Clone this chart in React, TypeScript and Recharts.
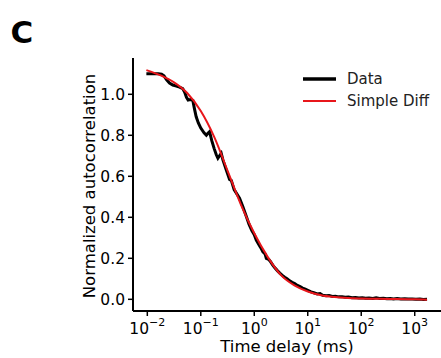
import React from 'react';
import { LineChart, Line, XAxis, YAxis, Legend } from 'recharts';

// Measured curve (Data), time delay in ms
const dataTime = [
  0.0096, 0.0115, 0.0135, 0.016, 0.0185, 0.0205, 0.023, 0.026, 0.03, 0.035,
  0.04, 0.046, 0.05, 0.054, 0.058, 0.064, 0.071, 0.076, 0.082, 0.09,
  0.1, 0.115, 0.127, 0.136, 0.146, 0.16, 0.178, 0.195, 0.209, 0.224,
  0.241, 0.259, 0.3, 0.345, 0.372, 0.42, 0.53, 0.61, 0.708, 0.8,
  0.9, 1.0, 1.09, 1.2, 1.32, 1.45, 1.59, 1.68, 1.85, 2.0,
  2.2, 2.4, 2.7, 3.0, 3.3, 3.7, 4.1, 4.6, 5.1, 5.7,
  6.4, 7.2, 8.0, 9.0, 10, 11.5, 13, 15, 17, 19,
  22, 25, 29, 33, 38, 44, 50, 58, 67, 78,
  90, 105, 120, 140, 165, 190, 220, 260, 300, 350,
  400, 470, 550, 650, 750, 900, 1050, 1250, 1450, 1700,
];
const dataValue = [
  1.1, 1.1, 1.1, 1.1, 1.098, 1.09, 1.07, 1.055, 1.045, 1.04,
  1.035, 1.028, 1.01, 0.985, 0.972, 0.974, 0.97, 0.93, 0.89, 0.86,
  0.835, 0.812, 0.8, 0.81, 0.818, 0.775, 0.735, 0.705, 0.688, 0.7,
  0.712, 0.68, 0.63, 0.585, 0.58, 0.535, 0.493, 0.452, 0.405, 0.365,
  0.335, 0.315, 0.289, 0.27, 0.252, 0.232, 0.222, 0.2, 0.195, 0.185,
  0.168, 0.155, 0.14, 0.128, 0.118, 0.108, 0.1, 0.09, 0.083, 0.077,
  0.068, 0.062, 0.055, 0.05, 0.044, 0.036, 0.032, 0.026, 0.028, 0.02,
  0.018, 0.019, 0.014, 0.015, 0.012, 0.013, 0.01, 0.011, 0.008, 0.009,
  0.006, 0.008, 0.005, 0.006, 0.004, 0.007, 0.004, 0.005, 0.003, 0.004,
  0.002, 0.004, 0.002, 0.003, 0.001, 0.002, 0.0, 0.001, -0.001, 0.0,
];

// Simple diffusion fit (Simple Diff)
const fitTime = [
  0.0096, 0.0178, 0.0316, 0.0562, 0.1, 0.178, 0.316, 0.562, 1.0, 1.78,
  3.16, 5.62, 10, 17.8, 31.6, 56.2, 100, 316, 1000, 1700,
];
const fitValue = [
  1.118, 1.092, 1.058, 1.005, 0.918, 0.792, 0.628, 0.462, 0.322, 0.207,
  0.118, 0.068, 0.038, 0.02, 0.011, 0.006, 0.004, 0.002, 0.0, -0.002,
];

const xTicks = [0.01, 0.1, 1, 10, 100, 1000];
const yTicks = [0, 0.2, 0.4, 0.6, 0.8, 1.0];
const seriesNames = ['Data', 'Simple Diff'];
const seriesColors = ['#000000', '#e8161b'];
const xLabel = 'Time delay (ms)';
const yLabel = 'Normalized autocorrelation';
const panelTitle = 'C';

const FONT = '"DejaVu Sans", sans-serif';

const dataRows = dataTime.map((t, i) => ({ t, v: dataValue[i] }));
const fitRows = fitTime.map((t, i) => ({ t, v: fitValue[i] }));

const XTick = (props: any) => {
  const { x, y, payload } = props;
  const exp = Math.round(Math.log10(payload.value));
  const expText = exp < 0 ? '\u2212' + Math.abs(exp) : String(exp);
  return (
    <g transform={`translate(${x},${y})`}>
      <text textAnchor="middle" y={14.5} fontSize={15.5} fill="#000" fontFamily={FONT}>
        <tspan>10</tspan>
        <tspan dy={-8} fontSize={11}>{expText}</tspan>
      </text>
    </g>
  );
};

const renderLegend = () => (
  <svg width={140} height={50} style={{ display: 'block' }}>
    {seriesNames.map((name, i) => (
      <g key={name} transform={`translate(0, ${i * 22})`}>
        <line x1={3} x2={36} y1={11} y2={11} stroke={seriesColors[i]} strokeWidth={i === 0 ? 3.5 : 2} />
        <text x={47} y={16} fontSize={15} fontFamily={FONT} fill="#222">{name}</text>
      </g>
    ))}
  </svg>
);

export default function App() {
  return (
    <div style={{ position: 'absolute', left: 0, top: 0, width: 441, height: 358, background: '#fff' }}>
      <svg width={60} height={50} style={{ position: 'absolute', left: 0, top: 0 }}>
        <text x={10.5} y={43} fontSize={31} fontWeight="bold" fontFamily={FONT} fill="#000">{panelTitle}</text>
      </svg>
      <LineChart
        width={441}
        height={358}
        margin={{ top: 58, right: 0, left: 0, bottom: 0 }}
        style={{ fontFamily: FONT }}
      >
        <XAxis
          dataKey="t"
          type="number"
          scale="log"
          domain={[0.0054, 3100]}
          allowDataOverflow
          ticks={xTicks}
          interval={0}
          height={47}
          tickSize={5}
          tickMargin={3}
          axisLine={{ stroke: '#000', strokeWidth: 2 }}
          tickLine={{ stroke: '#000', strokeWidth: 1.5 }}
          tick={<XTick />}
          label={() => (
            <text x={287} y={352} textAnchor="middle" fontSize={16.5} fontFamily={FONT} fill="#000">{xLabel}</text>
          )}
        />
        <YAxis
          type="number"
          domain={[-0.057, 1.177]}
          allowDataOverflow
          ticks={yTicks}
          interval={0}
          width={133}
          tickSize={5}
          tickMargin={3}
          tickFormatter={(v: number) => v.toFixed(1)}
          tick={{ fontSize: 15.5, fill: '#000', fontFamily: FONT }}
          axisLine={{ stroke: '#000', strokeWidth: 2 }}
          tickLine={{ stroke: '#000', strokeWidth: 1.5 }}
          label={() => (
            <text x={94.5} y={186} transform="rotate(-90 94.5 186)" textAnchor="middle" fontSize={16.5} fontFamily={FONT} fill="#000">{yLabel}</text>
          )}
        />
        <Legend
          layout="vertical"
          align="center"
          verticalAlign="middle"
          content={renderLegend}
          wrapperStyle={{ position: 'absolute', left: 300, top: 68, width: 140, height: 50 }}
        />
        <Line
          data={dataRows}
          dataKey="v"
          name={seriesNames[0]}
          type="linear"
          stroke={seriesColors[0]}
          strokeWidth={3}
          dot={false}
          isAnimationActive={false}
        />
        <Line
          data={fitRows}
          dataKey="v"
          name={seriesNames[1]}
          type="monotone"
          stroke={seriesColors[1]}
          strokeWidth={2}
          dot={false}
          isAnimationActive={false}
        />
      </LineChart>
    </div>
  );
}
